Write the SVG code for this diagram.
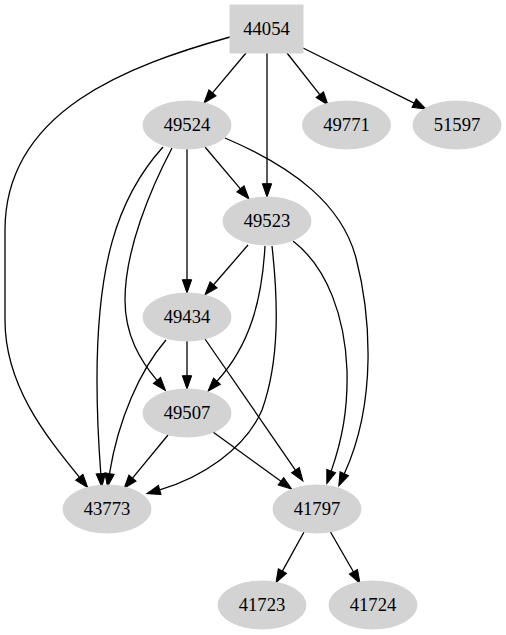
<svg xmlns="http://www.w3.org/2000/svg" width="506" height="635" viewBox="0 0 506 635">
<style>
.n ellipse, .n rect { fill: #d3d3d3; stroke: #d3d3d3; stroke-width: 1; }
.n text { font-family: "Liberation Serif", "Times New Roman", serif; font-size: 18.67px; text-anchor: middle; fill: #000; }
.e path { fill: none; stroke: #000; stroke-width: 1.3; marker-end: url(#ah); }
</style>
<defs>
<marker id="ah" markerUnits="userSpaceOnUse" markerWidth="15" markerHeight="11" refX="0" refY="4.67" orient="auto" overflow="visible">
<path d="M0,0 L13.3,4.67 L0,9.33 z" fill="#000" stroke="#000" stroke-width="1"/>
</marker>
</defs>
<rect width="506" height="635" fill="#fff"/>
<g id="edges" class="e">
<path d="M246,53 L212.5,92.8"/>
<path d="M267,53 L267,183.7"/>
<path d="M287,53 L319.8,94.6"/>
<path d="M303,48 L414.1,103.1"/>
<path d="M230,37 C130,65 5,110 5,230 L5,320 C5,385 45,435 79.3,477.2"/>
<path d="M205,147 L240.4,188.8"/>
<path d="M187,149 L187,279.7"/>
<path d="M225,138 C295,168 342,205 356,258 C370,312 378,400 344.3,473.8"/>
<path d="M163,147 C115,200 97,270 97,380 C97,420 99,450 100.8,473.7"/>
<path d="M172,148 C150,190 125,250 125,300 C125,335 140,360 157,380.4"/>
<path d="M248,245 L213.6,284.8"/>
<path d="M265,246 C262,300 250,345 217,381.2"/>
<path d="M272,246 C278,300 280,360 262,410 C245,450 200,478 159.7,489.9"/>
<path d="M293,241 C328,268 345,318 347,370 C348,410 342,440 331.2,471.1"/>
<path d="M187,341 L187,375.7"/>
<path d="M166,340 C140,370 118,420 109.5,473.7"/>
<path d="M205,339 L295.4,470.1"/>
<path d="M168,435 L132.5,478.1"/>
<path d="M213,432 L280.9,481.3"/>
<path d="M304,532 L282.4,571.1"/>
<path d="M330.5,532 L353.4,571.8"/>
</g>
<g id="n44054" class="n"><rect x="230" y="5" width="73" height="48"/><text x="266.5" y="34.5">44054</text></g>
<g id="n49524" class="n"><ellipse cx="187" cy="125" rx="44" ry="24"/><text x="187" y="130.5">49524</text></g>
<g id="n49771" class="n"><ellipse cx="346.5" cy="125" rx="44" ry="24"/><text x="346.5" y="130.5">49771</text></g>
<g id="n51597" class="n"><ellipse cx="457" cy="125" rx="44" ry="24"/><text x="457" y="130.5">51597</text></g>
<g id="n49523" class="n"><ellipse cx="267" cy="221" rx="44" ry="24"/><text x="267" y="226.5">49523</text></g>
<g id="n49434" class="n"><ellipse cx="187" cy="317" rx="44" ry="24"/><text x="187" y="322.5">49434</text></g>
<g id="n49507" class="n"><ellipse cx="187" cy="413" rx="44" ry="24"/><text x="187" y="418.5">49507</text></g>
<g id="n43773" class="n"><ellipse cx="107" cy="509" rx="44" ry="24"/><text x="107" y="514.5">43773</text></g>
<g id="n41797" class="n"><ellipse cx="317" cy="509" rx="44" ry="24"/><text x="317" y="514.5">41797</text></g>
<g id="n41723" class="n"><ellipse cx="262" cy="605" rx="44" ry="24"/><text x="262" y="610.5">41723</text></g>
<g id="n41724" class="n"><ellipse cx="373" cy="605" rx="44" ry="24"/><text x="373" y="610.5">41724</text></g>
</svg>
